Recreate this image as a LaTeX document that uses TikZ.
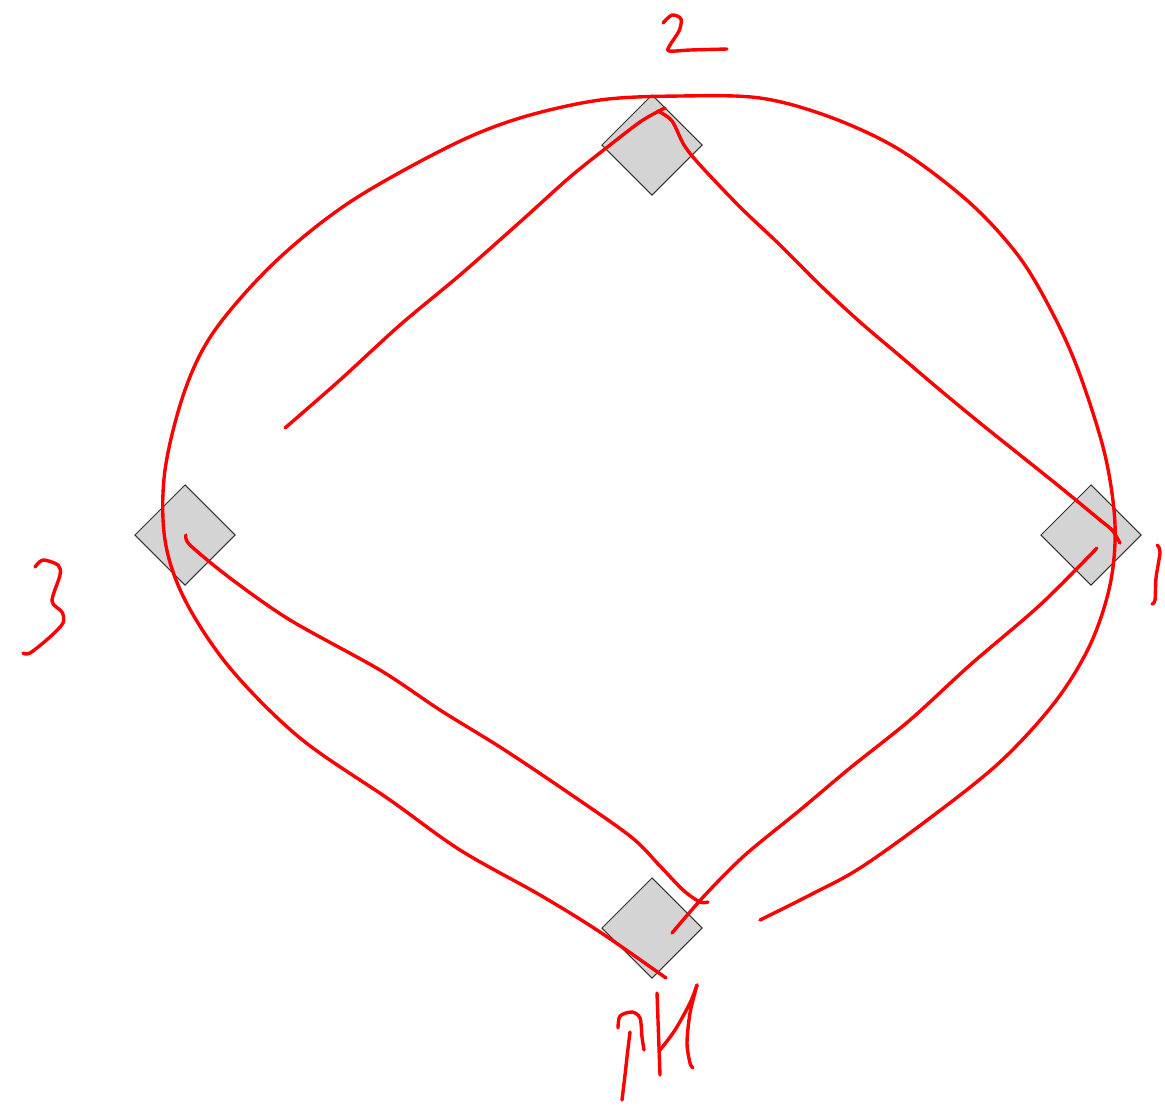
\documentclass[tikz,border=0pt]{standalone}
\begin{document}
\begin{tikzpicture}[x=0.5pt,y=-0.5pt,
  basebox/.style={draw=black!80, line width=0.5pt, fill=black!17, rectangle, rotate=45, minimum width=35.4pt, minimum height=35.4pt, inner sep=0pt},
  ink/.style={draw=red, line width=1.7pt, line cap=round, line join=round}]
\useasboundingbox (0,0) rectangle (1165,1105);
% bases
\node[basebox] (second) at (652,145) {};
\node[basebox] (third) at (185,535) {};
\node[basebox] (first) at (1091,535) {};
\node[basebox] (home) at (652,928) {};
% outer loop
\draw[ink] plot[smooth, tension=0.55] coordinates {(760,920) (810,895) (860,868) (930,818) (1000,762) (1055,702) (1090,645) (1110,585) (1115,525) (1105,455) (1080,375) (1055,318) (1020,258) (970,203) (900,150) (830,117) (760,98) (680,96) (600,100) (520,118) (450,146) (350,202) (275,262) (215,330) (185,390) (165,470) (165,540) (185,600) (230,668) (300,738) (390,800) (460,850) (540,895) (600,932) (666,978)};
% third-to-second partial line
\draw[ink] plot[smooth, tension=0.5] coordinates {(285,428) (340,380) (400,325) (460,275) (520,222) (570,177) (610,145) (640,122) (657,112) (665,108)};
% second to first
\draw[ink] plot[smooth, tension=0.5] coordinates {(658,111) (672,121) (684,145) (700,165) (740,207) (780,245) (820,285) (860,322) (900,356) (940,390) (980,423) (1020,455) (1060,487) (1100,520) (1112,530) (1120,543)};
% home to first
\draw[ink] plot[smooth, tension=0.5] coordinates {(672,933) (705,895) (745,855) (800,810) (850,768) (910,720) (970,665) (1040,605) (1097,548)};
% third to home
\draw[ink] plot[smooth, tension=0.5] coordinates {(186,535) (190,545) (230,578) (290,620) (380,670) (440,710) (500,747) (560,787) (630,836) (660,866) (683,890) (700,902) (708,902)};
% label 2
\draw[ink] plot[smooth, tension=0.5] coordinates {(663,23) (672,15) (681,19) (679,31) (670,45) (669,51) (690,50) (727,49)};
% label 3
\draw[ink] plot[smooth, tension=0.5] coordinates {(35,567) (43,560) (58,565) (60,575) (52,601) (62,612) (63,623) (50,637) (30,653) (23,653)};
% label 1
\draw[ink] plot[smooth, tension=0.5] coordinates {(1157,545) (1160,552) (1156,578) (1155,600) (1152,604)};
% bottom label
\draw[ink] plot[smooth, tension=0.5] coordinates {(622,1100) (625,1075) (627,1057) (630,1032)};
\draw[ink] plot[smooth, tension=0.5] coordinates {(618,1028) (620,1016) (632,1012) (640,1018) (642,1037) (644,1050)};
\draw[ink] (657,993) -- (660,1075);
\draw[ink] plot[smooth, tension=0.5] coordinates {(660,1050) (675,1030) (690,1003) (697,985)};
\draw[ink] plot[smooth, tension=0.5] coordinates {(697,985) (690,1013) (687,1043) (690,1063) (693,1068)};
\end{tikzpicture}
\end{document}
